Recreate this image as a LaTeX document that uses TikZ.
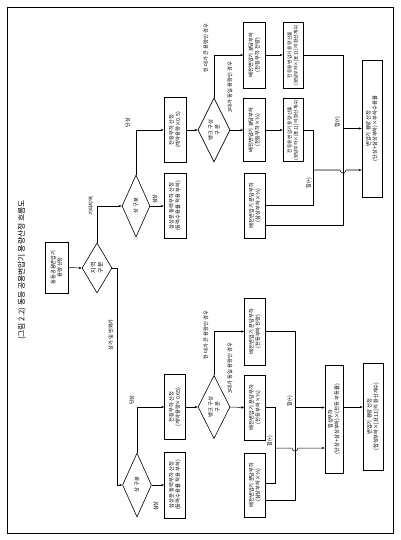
\documentclass[tikz,border=0pt]{standalone}
\usepackage{fontspec}
\setmainfont{Noto Sans CJK KR}
\newfontfamily\dvfont{DejaVu Sans}
\newcommand{\onethird}{{\dvfont ⅓}}
\usetikzlibrary{shapes.geometric,arrows.meta,calc}
\begin{document}
\begin{tikzpicture}[x=1pt,y=-1pt,
  every node/.style={rotate=90,font=\fontsize{5.3}{6.6}\selectfont,inner sep=0pt,align=center},
  bx/.style 2 args={draw,line width=0.6pt,minimum width=#1,minimum height=#2},
  dia/.style 2 args={diamond,draw,line width=0.6pt,minimum width=#1,minimum height=#2},
  lbl/.style={font=\fontsize{5.3}{6.6}\selectfont},
  arr/.style={line width=0.5pt,-{Stealth[length=3pt,width=2.4pt]}},
  ln/.style={line width=0.5pt}]
\useasboundingbox (0,0) rectangle (400,540);
\draw[line width=0.8pt] (7,7) rectangle (393,533);
\node[font=\fontsize{7.8}{9}\selectfont] (title) at (22,270) {(그림 2.2) 동등 공용변압기 용량산정 흐름도};
% main nodes
\node[bx={51pt}{23pt}] (start) at (56.5,267.5) {동등공용변압기\\용량 산정};
\node[dia={50pt}{30pt},font=\fontsize{5.8}{7}\selectfont] (reg) at (97,268) {지 역\\구 분};
\node[dia={62pt}{28pt}] (ph1) at (136,206) {상 구분};
\node[dia={64pt}{29pt}] (ph2) at (137,485) {상 구분};
\node[bx={65pt}{22pt}] (L1) at (175,130) {전등부하 산정\\(계약용량×0.5)};
\node[bx={65pt}{22pt}] (T1) at (175,206) {삼상분 동력부하 산정\\(동력수용률 적용 부하)};
\node[bx={65pt}{21pt}] (L2) at (175,407) {전등부하 산정\\(계약용량×0.65)};
\node[bx={66pt}{21pt}] (T2) at (175,485) {삼상분 동력부하 산정\\(동력수용률 적용 부하)};
\node[dia={64pt}{28pt}] (B1) at (214,130) {뱅크 구성\\구 분};
\node[dia={63pt}{28pt}] (B2) at (214,407) {뱅크 구성\\구 분};
\node[bx={66pt}{22pt}] (D1a) at (254.5,55) {배전변압기 분담부하\\(전등부하 전량)};
\node[bx={63pt}{22pt}] (D1b) at (254.5,130) {배전변압기 분담부하\\(전등부하×\onethird)};
\node[bx={65pt}{21pt}] (D1c) at (255,205.5) {배전변압기 분담부하\\(삼상부하×\onethird)};
\node[bx={66pt}{20pt},font=\fontsize{4.7}{6.2}\selectfont] (C1a) at (293,55) {전등용 변압기 용량 산출\\(분담부하×[표11]의 환산계수)};
\node[bx={63pt}{20pt},font=\fontsize{4.7}{6.2}\selectfont] (C1b) at (293,130) {전등용 변압기 용량 산출\\(분담부하×[표11]의 환산계수)};
\node[bx={137pt}{20pt}] (F1) at (372,128.5) {변압기 용량 선정\\(단상+삼상부하)×부하수용률};
\node[bx={67pt}{21pt}] (D2a) at (255,331.5) {배전변압기 분담부하\\(전등부하 전량)};
\node[bx={65pt}{21pt}] (D2b) at (255,407.5) {배전변압기 분담부하\\(전등부하×\onethird)};
\node[bx={64pt}{21pt}] (D2c) at (255,485) {배전변압기 분담부하\\(삼상부하×\onethird)};
\node[bx={108pt}{18pt}] (S2) at (334,419) {합성부하\\(단상+삼상부하)×(전등 부등률)};
\node[bx={107pt}{20pt}] (F2) at (373,416.5) {변압기 용량 선정\\(합성부하×[표11]의 환산계수)};
% connectors
\draw[arr] (start.south) -- (reg.north);
\draw[arr] (reg.east) |- (ph1.north);
\draw[arr] (reg.south) -- ++(5,0) |- (ph2.north);
\draw[arr] (ph1.east) |- (L1.north);
\draw[arr] (ph1.south) -- (T1.north);
\draw[arr] (ph2.east) |- (L2.north);
\draw[arr] (ph2.south) -- (T2.north);
\draw[arr] (L1.south) -- (B1.north);
\draw[arr] (L2.south) -- (B2.north);
\draw[arr] (B1.east) |- (D1a.north);
\draw[arr] (B1.south) -- (D1b.north);
\draw[arr] (B2.east) |- (D2a.north);
\draw[arr] (B2.south) -- (D2b.north);
\draw[arr] (D1a.south) -- (C1a.north);
\draw[arr] (D1b.south) -- (C1b.north);
% upper merges
\coordinate (cA) at (343,225);
\coordinate (jA) at (343,128.5);
\coordinate (hA) at (343,170);
\coordinate (cB) at (313,205.5);
\coordinate (jB) at (313,170);
\draw[ln] (C1a.south) -| (cA) -- (D1c.south |- cA);
\draw[arr] (jA) -- (F1.north |- jA);
\draw[ln] (C1b.south) -| (cB) -- (D1c.south);
\draw[arr] (jB) -- ($(hA)+(-3,0)$) arc[start angle=180,end angle=0,radius=3] -- (F1.north |- jB);
% lower merges
\coordinate (cC) at (295,500);
\coordinate (jC) at (295,407.5);
\coordinate (hC) at (295,448);
\coordinate (cD) at (275,483);
\coordinate (jD) at (275,448);
\coordinate (jE) at (343,407);
\draw[ln] (D2a.south) -| (cC) -- (D2c.south |- cC);
\draw[arr] (jC) -- (S2.north |- jC);
\draw[ln] (D2b.south) -| (cD) -- (D2c.south |- cD);
\draw[arr] (jD) -- ($(hC)+(-3,0)$) arc[start angle=180,end angle=0,radius=3] -- (S2.north |- jD);
\draw[arr] (S2.south |- jE) -- (F2.north |- jE);
% labels
\node[lbl] (l1) at (91,206) {기타지역};
\node[lbl] (l2) at (111,335) {상가 및 번화가};
\node[lbl] (l3) at (128,123) {단상};
\node[lbl] (l4) at (155,199) {삼상};
\node[lbl] (l5) at (132,400) {단상};
\node[lbl] (l6) at (156,506) {삼상};
\node[lbl] (l7) at (206,48) {한 대가 큰 용량인 경우};
\node[lbl] (l8) at (230,87) {3대가 동일 용량인 경우};
\node[lbl] (l9) at (206,335) {한 대가 큰 용량인 경우};
\node[lbl] (l10) at (230,368) {3대가 동일 용량인 경우};
\node[lbl] (s1) at (337.5,122) {합(+)};
\node[lbl] (s2) at (309,183) {합(+)};
\node[lbl] (s3) at (290,401) {합(+)};
\node[lbl] (s4) at (270,441) {합(+)};
\end{tikzpicture}
\end{document}
